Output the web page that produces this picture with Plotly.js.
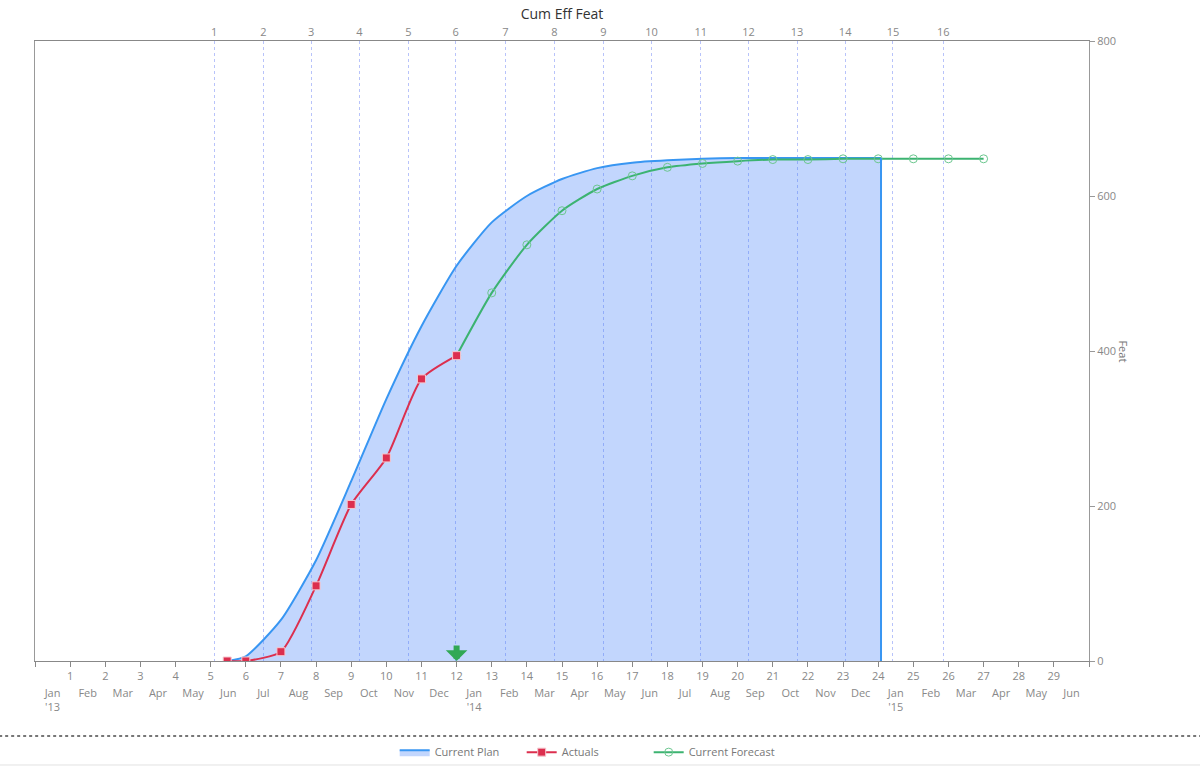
<!DOCTYPE html>
<html>
<head>
<meta charset="utf-8">
<script src="https://cdn.plot.ly/plotly-3.0.1.min.js"></script>
<style>html,body{margin:0;padding:0;background:#fff;}#chart{width:1200px;height:766px;}</style>
</head>
<body>
<div id="chart"></div>
<script>
// ---- Data (x = months since Jan 2013) ----
const planMonth = [5.5, 6, 7, 8, 9, 10, 11, 12, 13, 14, 15, 16, 17, 18, 19, 20, 21, 22, 23, 24.08];
const planFeat  = [0, 6, 53, 130, 232, 338, 432, 510, 566, 600, 622, 636, 643, 646, 648, 649, 649, 649, 649, 649];

const actualMonth = [5.47, 6, 7, 8, 9, 10, 11, 12];
const actualFeat  = [0, 0, 12, 97, 202, 262, 364, 394];

const forecastMonth = [12, 13, 14, 15, 16, 17, 18, 19, 20, 21, 22, 23, 24, 25, 26, 27];
const forecastFeat  = [394, 475, 537, 581, 609, 626, 637, 642, 645, 647, 647, 648, 648, 648, 648, 648];

const monthNumbers = ["1","2","3","4","5","6","7","8","9","10","11","12","13","14","15","16","17","18","19","20","21","22","23","24","25","26","27","28","29"];
const monthNames = ["Jan<br>'13","Feb","Mar","Apr","May","Jun","Jul","Aug","Sep","Oct","Nov","Dec",
                    "Jan<br>'14","Feb","Mar","Apr","May","Jun","Jul","Aug","Sep","Oct","Nov","Dec",
                    "Jan<br>'15","Feb","Mar","Apr","May","Jun"];

const sprintLabels = ["1","2","3","4","5","6","7","8","9","10","11","12","13","14","15","16"];
const sprintStart  = [5.10, 6.50, 7.86, 9.23, 10.63, 11.97, 13.39, 14.78, 16.18, 17.55, 18.95, 20.31, 21.69, 23.06, 24.42, 25.85];

const todayMonth = 12;
const yTicks = [0, 200, 400, 600, 800];

// ---- Derived tick positions ----
const numTickVals = [0].concat(monthNumbers.map((_, i) => i + 1)).concat([monthNumbers.length + 1]);
const numTickText = [""].concat(monthNumbers).concat([""]);
const monthTickVals = monthNames.map((_, i) => i + 0.5);
const xRange = [0, monthNames.length];

const FONT = '"Open Sans", "Noto Sans", sans-serif';
const tickFont = {family: FONT, size: 11, color: '#888'};

const traces = [
  {
    name: 'Current Plan', x: planMonth, y: planFeat, type: 'scatter', mode: 'lines',
    line: {color: '#3896f2', width: 2, shape: 'spline', smoothing: 0.6},
    fill: 'tozeroy', fillcolor: 'rgba(64,128,250,0.32)',
    legendrank: 1, hoverinfo: 'skip'
  },
  {
    name: 'Current Forecast', x: forecastMonth, y: forecastFeat, type: 'scatter', mode: 'lines+markers',
    line: {color: '#3cb371', width: 2, shape: 'spline', smoothing: 0.6},
    marker: {symbol: 'circle-open', size: 8, color: '#6cc78f', line: {width: 1}},
    legendrank: 3, hoverinfo: 'skip'
  },
  {
    name: 'Actuals', x: actualMonth, y: actualFeat, type: 'scatter', mode: 'lines+markers',
    line: {color: '#dc2f4e', width: 2, shape: 'spline', smoothing: 0.6},
    marker: {symbol: 'square', size: 8, color: '#dc2f4e', line: {color: '#f6c8d0', width: 1}},
    legendrank: 2, hoverinfo: 'skip'
  }
];

const lastIdx = planMonth.length - 1;

const layout = {
  width: 1200, height: 766,
  margin: {l: 35, r: 111, t: 41, b: 105, autoexpand: false},
  paper_bgcolor: '#fff', plot_bgcolor: '#fff',
  font: {family: FONT, color: '#777', size: 11},
  title: {text: 'Cum Eff Feat', font: {family: FONT, size: 14, color: '#333'},
          x: 0.5, xref: 'paper', xanchor: 'center', y: 0.981, yref: 'container', yanchor: 'middle'},
  showlegend: true,
  legend: {orientation: 'h', x: 0.522, xanchor: 'center', y: -0.147, yanchor: 'middle',
           entrywidth: 82, entrywidthmode: 'pixels',
           font: {family: FONT, size: 11, color: '#777'}, bgcolor: 'rgba(0,0,0,0)'},
  xaxis: {
    range: xRange, tickmode: 'array', tickvals: numTickVals, ticktext: numTickText,
    ticks: 'outside', ticklen: 5, tickcolor: '#888', tickwidth: 1,
    showline: true, linecolor: '#888', linewidth: 1,
    showgrid: false, zeroline: false, tickfont: tickFont, fixedrange: true
  },
  xaxis3: {
    overlaying: 'x', side: 'bottom', anchor: 'y', range: xRange,
    tickmode: 'array', tickvals: monthTickVals, ticktext: monthNames,
    ticks: '', showline: false, showgrid: false, zeroline: false,
    ticklabelstandoff: 24, tickfont: tickFont, fixedrange: true
  },
  xaxis2: {
    overlaying: 'x', side: 'top', anchor: 'y', range: xRange,
    tickmode: 'array', tickvals: sprintStart, ticktext: sprintLabels,
    ticks: '', showline: true, linecolor: '#888', linewidth: 1,
    showgrid: true, gridcolor: '#b8c3fa', griddash: 'dot', gridwidth: 1,
    zeroline: false, tickfont: tickFont, fixedrange: true
  },
  yaxis: {
    side: 'right', range: [0, 800], tickmode: 'array', tickvals: yTicks,
    ticks: 'outside', ticklen: 5, tickcolor: '#999',
    showline: true, linecolor: '#999', linewidth: 1, mirror: true,
    showgrid: false, zeroline: false, tickfont: tickFont, fixedrange: true
  },
  annotations: [
    {text: 'Feat', xref: 'paper', yref: 'paper', x: 1.0418, y: 0.5, showarrow: false,
     textangle: 90, font: {family: FONT, size: 11, color: '#777'}},
    {text: '', x: todayMonth, y: 0, xref: 'x', yref: 'y', showarrow: true,
     ax: 0, ay: -17, axref: 'pixel', ayref: 'pixel',
     arrowhead: 1, arrowsize: 0.6, arrowwidth: 6, arrowcolor: '#31a854', standoff: 0}
  ],
  shapes: [
    {type: 'line', xref: 'x', yref: 'y', x0: planMonth[lastIdx], x1: planMonth[lastIdx],
     y0: 0, y1: planFeat[lastIdx], line: {color: '#3896f2', width: 2}},
    {type: 'line', xref: 'paper', yref: 'paper', x0: -0.034, x1: 1.106, y0: -0.121, y1: -0.121,
     line: {color: '#777', width: 2, dash: 'dot'}},
    {type: 'line', xref: 'paper', yref: 'paper', x0: -0.034, x1: 1.106, y0: -0.1677, y1: -0.1677,
     line: {color: '#e2e2e2', width: 1}}
  ]
};

// attach x2/x3 dummy traces so overlaying axes render
traces.push({x: [xRange[0]], y: [null], xaxis: 'x2', yaxis: 'y', showlegend: false, hoverinfo: 'skip', mode: 'markers'});
traces.push({x: [xRange[0]], y: [null], xaxis: 'x3', yaxis: 'y', showlegend: false, hoverinfo: 'skip', mode: 'markers'});

Plotly.newPlot('chart', traces, layout, {displayModeBar: false, staticPlot: true});
</script>
</body>
</html>
